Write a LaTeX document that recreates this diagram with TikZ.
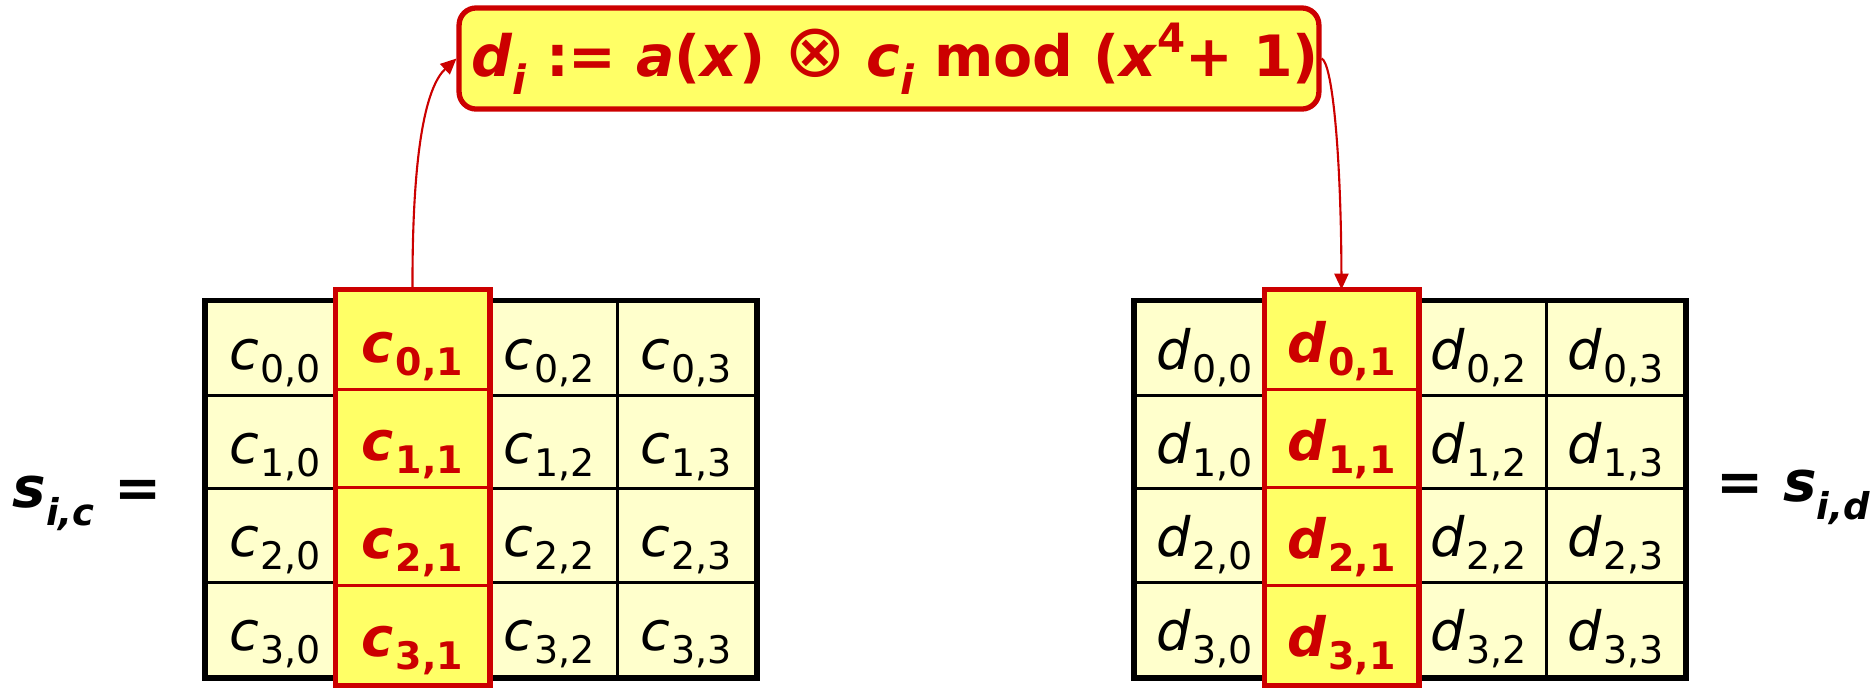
\documentclass[tikz,border=0pt]{standalone}
\usepackage{fontspec}
\setmainfont{DejaVu Sans}
\newfontfamily\symf{DejaVu Sans}
\usetikzlibrary{arrows.meta}
\definecolor{cellbg}{HTML}{FFFFCC}
\definecolor{hlbg}{HTML}{FFFF66}
\definecolor{rd}{HTML}{CC0000}
\newcommand{\nm}[2]{\textit{#1}\kern0.02em\raisebox{-0.24em}{\fontsize{10.8}{12}\selectfont #2}}
\newcommand{\hm}[2]{\textbf{\textit{#1}}\kern0.03em\raisebox{-0.24em}{\fontsize{10.8}{12}\selectfont\bfseries #2}}
\newcommand{\sbi}[1]{\raisebox{-0.32em}{\fontsize{11.5}{12}\selectfont\bfseries\itshape #1}}
\newcommand{\sbl}[1]{\raisebox{-0.32em}{\fontsize{10.5}{12}\selectfont\bfseries\itshape #1}}
\tikzset{
 cellbox/.style={draw=black, line width=0.85pt, fill=cellbg, minimum width=1.37cm, minimum height=0.935cm, inner sep=0pt, text height=0.42cm, text depth=0cm, font=\fontsize{15.4}{18}\selectfont},
 hlbox/.style={draw=rd, line width=0.85pt, fill=hlbg, minimum width=1.52cm, minimum height=0.9825cm, inner sep=0pt, text height=0.44cm, text depth=0cm, text=rd, font=\fontsize{15.4}{18}\selectfont},
 gridframe/.style={draw=black, line width=1.7pt},
 hlframe/.style={draw=rd, line width=1.4pt},
 eqbox/.style={draw=rd, line width=1.5pt, fill=hlbg, rounded corners=0.17cm, minimum width=8.54cm, minimum height=1.01cm, text=rd, font=\fontsize{16.2}{20}\selectfont\bfseries, inner sep=0pt},
 conn/.style={draw=rd, line width=0.6pt, -{Triangle[length=4.5pt,width=4pt]}},
 lbl/.style={font=\fontsize{16}{20}\selectfont\bfseries, inner sep=0pt}
}
\begin{document}
\begin{tikzpicture}[x=0.01cm,y=-0.01cm]
\useasboundingbox (0,0) rectangle (1875,687);
% left grid
\foreach \rr in {0,1,2,3}{
  \foreach \cc/\xx in {0/275.5,2/549.5,3/686.5}{
    \node[cellbox] (c\rr\cc) at (\xx,{348.75+93.5*\rr}) {\nm{c}{\rr,\cc}};
  }
  \node[cellbox] (c\rr1) at (412.5,{348.75+93.5*\rr}) {};
}
\draw[gridframe] (c00.north west) rectangle (c33.south east);
\foreach \rr in {0,1,2,3}{
  \node[hlbox] (hl\rr) at (412.5,{340.1+98.25*\rr}) {\hm{c}{\rr,1}};
}
\draw[hlframe] (hl0.north west) rectangle (hl3.south east);
% right grid
\foreach \rr in {0,1,2,3}{
  \foreach \cc/\xx in {0/1204.5,2/1478.5,3/1615.5}{
    \node[cellbox] (d\rr\cc) at (\xx,{348.75+93.5*\rr}) {\nm{d}{\rr,\cc}};
  }
  \node[cellbox] (d\rr1) at (1341.5,{348.75+93.5*\rr}) {};
}
\draw[gridframe] (d00.north west) rectangle (d33.south east);
\foreach \rr in {0,1,2,3}{
  \node[hlbox] (hr\rr) at (1341.5,{340.1+98.25*\rr}) {\hm{d}{\rr,1}};
}
\draw[hlframe] (hr0.north west) rectangle (hr3.south east);
% formula box
\node[eqbox] (eq) at (889,58.5) {\hspace*{0.12cm}\textit{d}\sbi{i}\ :=\ \textit{a}(\textit{x})\ {\symf\mdseries\fontsize{21}{22}\selectfont ⊗}\ \textit{c}\sbi{i}\ mod\ (\textit{x}\raisebox{0.42em}{\fontsize{11.5}{12}\selectfont\bfseries 4}+\ 1)};
% labels
\node[lbl, anchor=west] (sl) at (12,503) {\textit{s}\sbl{i,c}\ =};
\node[lbl, anchor=west] (sr) at (1716,497) {=\ \textit{s}\sbl{i,d}};
% connectors
\draw[conn] (hl0.north) .. controls (412,140) and (428,85) .. (eq.west);
\draw[conn] (eq.east) .. controls (1332,62) and (1341,150) .. (hr0.north);
\end{tikzpicture}
\end{document}
